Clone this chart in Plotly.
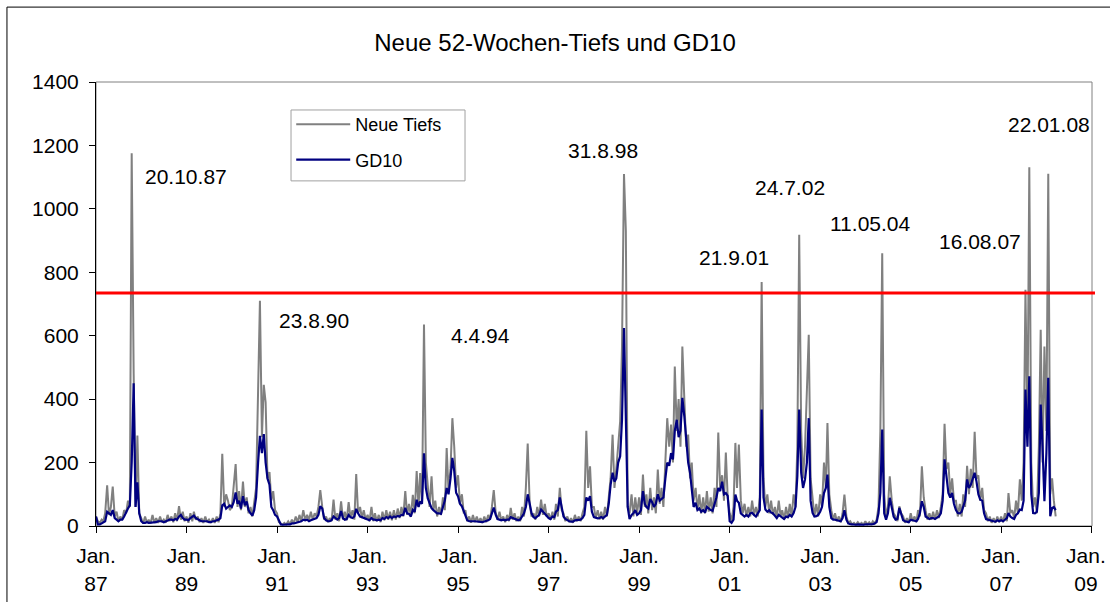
import plotly.graph_objects as go

# ---- data (semi-monthly readings: 1st and 16th of each month, Jan 1987 .. Mar 2008) ----
start_year = 1987

neue_tiefs = [
    30, 15, 10, 20, 15, 40, 128, 35, 60, 124, 30, 45, 15, 30, 20, 50, 40, 80, 60, 1175, 480, 60, 285, 40,      # 1987
    25, 8, 30, 10, 20, 8, 35, 10, 25, 10, 30, 12, 20, 10, 35, 15, 30, 12, 40, 15, 63, 20, 45, 15,              # 1988
    30, 10, 40, 15, 45, 20, 30, 12, 25, 10, 30, 12, 20, 10, 25, 10, 30, 12, 40, 228, 60, 100, 80, 50,          # 1989
    60, 130, 195, 60, 110, 50, 140, 60, 90, 40, 60, 30, 70, 120, 425, 710, 280, 445, 390, 150, 170, 80, 110, 50,  # 1990
    40, 12, 8, 4, 10, 5, 15, 6, 20, 8, 30, 12, 35, 15, 50, 20, 35, 18, 45, 20, 40, 30, 60, 113,                # 1991
    60, 20, 30, 12, 25, 15, 83, 20, 40, 15, 78, 20, 45, 18, 75, 25, 50, 20, 164, 40, 60, 25, 50, 20,           # 1992
    35, 15, 60, 15, 40, 15, 35, 12, 45, 18, 50, 20, 45, 18, 50, 20, 55, 25, 60, 30, 110, 35, 70, 30,           # 1993
    98, 40, 173, 60, 167, 70, 635, 200, 130, 60, 157, 50, 80, 30, 60, 35, 90, 50, 246, 110, 180, 340, 250, 120,  # 1994
    160, 70, 100, 40, 50, 15, 30, 10, 35, 12, 30, 12, 25, 10, 30, 12, 35, 20, 60, 113, 40, 20, 45, 18,         # 1995
    30, 12, 35, 15, 57, 20, 40, 15, 30, 15, 60, 30, 120, 260, 70, 30, 40, 20, 60, 30, 83, 35, 70, 30,          # 1996
    40, 20, 45, 20, 70, 30, 120, 50, 40, 15, 30, 12, 25, 10, 35, 15, 30, 15, 40, 60, 300, 120, 188, 60,        # 1997
    60, 25, 50, 20, 45, 20, 60, 30, 90, 150, 288, 120, 180, 250, 330, 566, 1110, 930, 60, 40, 100, 30, 90, 40,  # 1998
    90, 35, 162, 60, 100, 40, 120, 50, 90, 40, 178, 70, 120, 60, 200, 340, 250, 320, 200, 503, 300, 400, 250, 566,  # 1999
    400, 250, 288, 150, 200, 80, 120, 50, 100, 40, 90, 40, 110, 45, 90, 40, 120, 60, 295, 120, 160, 80, 232, 90,  # 2000
    40, 15, 60, 262, 120, 257, 80, 40, 70, 30, 60, 30, 80, 35, 60, 30, 90, 769, 150, 60, 100, 40, 80, 35,      # 2001
    60, 25, 80, 30, 50, 20, 60, 25, 70, 30, 100, 60, 250, 918, 300, 150, 250, 400, 603, 150, 80, 30, 70, 30,   # 2002
    100, 60, 200, 120, 325, 100, 50, 20, 40, 15, 30, 12, 40, 99, 30, 10, 15, 5, 10, 4, 12, 5, 10, 4,           # 2003
    15, 5, 12, 5, 15, 8, 20, 60, 300, 860, 100, 30, 60, 157, 80, 40, 30, 15, 62, 40, 30, 10, 25, 10,           # 2004
    40, 15, 30, 12, 50, 30, 188, 90, 50, 20, 40, 20, 45, 20, 50, 25, 60, 100, 322, 180, 200, 100, 150, 80,     # 2005
    80, 30, 70, 30, 100, 60, 190, 100, 180, 120, 297, 150, 160, 80, 120, 50, 40, 15, 30, 10, 25, 10, 30, 12,   # 2006
    30, 12, 40, 15, 104, 40, 50, 25, 80, 40, 147, 80, 200, 745, 300, 1131, 200, 60, 90, 40, 250, 619, 200, 566,  # 2007
    300, 1111, 100, 150, 80, 30,                                                                               # 2008
]

gd10 = [
    30, 5, 5, 8, 10, 15, 45, 40, 35, 50, 25, 20, 15, 20, 20, 30, 45, 55, 65, 200, 450, 60, 138, 40,            # 1987
    15, 10, 10, 12, 10, 10, 12, 12, 12, 15, 15, 15, 12, 15, 18, 20, 20, 18, 22, 20, 30, 35, 25, 20,            # 1988
    20, 18, 25, 30, 33, 25, 20, 18, 15, 15, 15, 15, 12, 12, 15, 15, 18, 20, 25, 65, 70, 55, 60, 65,            # 1989
    60, 75, 106, 70, 80, 55, 94, 65, 77, 50, 40, 33, 50, 90, 200, 284, 230, 290, 200, 150, 130, 60, 50, 35,    # 1990
    30, 15, 5, 4, 5, 4, 5, 5, 8, 8, 10, 10, 12, 15, 20, 18, 20, 15, 18, 20, 22, 25, 35, 62,                    # 1991
    55, 25, 18, 15, 15, 18, 30, 25, 20, 25, 47, 25, 20, 22, 35, 28, 25, 30, 54, 40, 30, 28, 25, 22,            # 1992
    20, 18, 25, 20, 20, 18, 20, 18, 25, 22, 28, 25, 30, 25, 30, 28, 32, 30, 35, 35, 57, 40, 38, 30,            # 1993
    51, 45, 83, 60, 77, 70, 229, 120, 88, 70, 56, 50, 45, 40, 40, 38, 60, 80, 120, 100, 150, 215, 173, 105,    # 1994
    93, 70, 62, 45, 30, 18, 15, 14, 15, 15, 14, 14, 12, 12, 14, 15, 18, 22, 40, 58, 35, 22, 20, 18,            # 1995
    20, 18, 20, 20, 28, 25, 22, 20, 18, 20, 30, 40, 60, 100, 70, 40, 28, 25, 30, 35, 52, 45, 40, 30,           # 1996
    25, 22, 30, 28, 45, 50, 90, 60, 30, 22, 18, 15, 14, 14, 18, 18, 18, 20, 25, 35, 90, 80, 94, 45,            # 1997
    28, 25, 24, 25, 28, 25, 30, 35, 70, 130, 168, 140, 150, 200, 220, 335, 624, 367, 60, 22, 35, 40, 50, 35,   # 1998
    40, 50, 110, 70, 60, 55, 85, 75, 60, 70, 100, 80, 85, 90, 150, 200, 190, 230, 210, 300, 335, 280, 300, 404,  # 1999
    346, 260, 200, 168, 110, 60, 73, 50, 55, 45, 50, 42, 60, 55, 50, 48, 70, 90, 120, 110, 140, 100, 104, 95,  # 2000
    15, 10, 20, 99, 80, 73, 40, 35, 30, 35, 30, 40, 42, 35, 30, 40, 50, 367, 90, 52, 45, 50, 42, 40,           # 2001
    30, 25, 35, 30, 25, 22, 30, 28, 35, 30, 41, 60, 157, 367, 168, 120, 147, 200, 340, 80, 41, 30, 31, 35,     # 2002
    45, 60, 104, 120, 162, 60, 25, 20, 20, 18, 15, 15, 25, 50, 20, 8, 6, 5, 5, 4, 5, 4, 5, 4,                  # 2003
    5, 5, 6, 5, 6, 8, 12, 40, 104, 304, 40, 20, 40, 89, 60, 30, 20, 22, 57, 35, 18, 15, 14, 12,               # 2004
    20, 18, 15, 15, 22, 40, 78, 60, 30, 25, 22, 25, 25, 22, 25, 30, 40, 80, 210, 150, 104, 90, 104, 70,       # 2005
    50, 41, 40, 45, 60, 80, 147, 120, 130, 150, 168, 140, 100, 83, 80, 40, 22, 20, 18, 15, 15, 14, 18, 15,    # 2006
    18, 15, 20, 25, 41, 30, 25, 22, 35, 40, 52, 50, 80, 430, 250, 472, 100, 41, 40, 45, 104, 383, 250, 78,    # 2007
    230, 467, 31, 57, 60, 50,                                                                                  # 2008
]

threshold = 735

tick_dates = ["1987-01-01", "1989-01-01", "1991-01-01", "1993-01-01", "1995-01-01", "1997-01-01",
              "1999-01-01", "2001-01-01", "2003-01-01", "2005-01-01", "2007-01-01", "2009-01-01"]
tick_labels = ["Jan.<br>87", "Jan.<br>89", "Jan.<br>91", "Jan.<br>93", "Jan.<br>95", "Jan.<br>97",
               "Jan.<br>99", "Jan.<br>01", "Jan.<br>03", "Jan.<br>05", "Jan.<br>07",
               "Jan.&nbsp;&nbsp;<br>09&nbsp;&nbsp;"]

peak_labels = ["20.10.87", "23.8.90", "4.4.94", "31.8.98", "21.9.01", "24.7.02", "11.05.04", "16.08.07", "22.01.08"]
label_x = ["1988-01-15", "1991-01-04", "1994-10-23", "1997-05-19", "2000-04-10", "2001-07-06",
           "2003-03-03", "2005-07-30", "2007-02-06"]
label_y = [1101, 649, 602, 1183, 847, 1068, 953, 896, 1265]

# semi-monthly date grid (x positions of the readings)
dates = []
for i in range(len(neue_tiefs)):
    yr = start_year + i // 24
    mo = (i % 24) // 2 + 1
    dy = 1 if i % 2 == 0 else 16
    dates.append(f"{yr}-{mo:02d}-{dy:02d}")

FONT = "Arial, Liberation Sans, sans-serif"

fig = go.Figure()
fig.add_trace(go.Scatter(x=dates, y=neue_tiefs, mode="lines", name="Neue Tiefs",
                         line=dict(color="#808080", width=2), legendgroup="a"))
fig.add_trace(go.Scatter(x=dates, y=gd10, mode="lines", name="GD10",
                         line=dict(color="#000080", width=2.2), legendgroup="b"))

for txt, lx, ly in zip(peak_labels, label_x, label_y):
    fig.add_annotation(x=lx, y=ly, xref="x", yref="y", text=txt, showarrow=False,
                       xanchor="left", yanchor="middle",
                       font=dict(family=FONT, size=21, color="black"))

# threshold line
fig.add_shape(type="line", xref="paper", yref="y", x0=0, x1=1.003, y0=threshold, y1=threshold,
              line=dict(color="#FF0000", width=3))
# plot area border (grey)
fig.add_shape(type="rect", xref="paper", yref="paper", x0=0, x1=1, y0=0, y1=1,
              line=dict(color="#808080", width=1), layer="below")
# chart area frame (black)
fig.add_shape(type="rect", xref="paper", yref="paper", x0=-0.0894, x1=1.05, y0=-0.25, y1=1.1687,
              line=dict(color="black", width=1), layer="below")
# legend box
fig.add_shape(type="rect", xref="paper", yref="paper", x0=0.1958, x1=0.3705, y0=0.7773, y1=0.937,
              line=dict(color="#A0A0A0", width=1), fillcolor="white", layer="above")

fig.update_layout(
    width=1110, height=602,
    margin=dict(l=96, r=18, t=82, b=76, autoexpand=False),
    paper_bgcolor="white", plot_bgcolor="white",
    font=dict(family=FONT, size=21, color="black"),
    title=dict(text="Neue 52-Wochen-Tiefs und GD10", x=0.5, xanchor="center",
               y=1 - 43 / 602, yanchor="middle", font=dict(family=FONT, size=24, color="black")),
    showlegend=True,
    legend=dict(x=0.196, y=0.946, xanchor="left", yanchor="top", bgcolor="rgba(0,0,0,0)",
                borderwidth=0, font=dict(family=FONT, size=18),
                tracegroupgap=9, itemwidth=54),
    xaxis=dict(type="date", range=["1987-01-01", "2009-01-03"], tickvals=tick_dates, ticktext=tick_labels,
               ticks="outside", ticklen=6, tickcolor="black", showline=True, linecolor="black",
               linewidth=1, showgrid=False, zeroline=False, tickfont=dict(family=FONT, size=21),
               ticklabelstandoff=5, automargin=False, ticklabeloverflow="allow"),
    yaxis=dict(range=[0, 1400], dtick=200, ticks="outside", ticklen=6, tickcolor="black",
               showline=True, linecolor="black", linewidth=1, showgrid=False, zeroline=False,
               tickfont=dict(family=FONT, size=21), ticklabelstandoff=6, automargin=False),
)

fig.write_html("out.html", config={"displayModeBar": False},
               post_script="document.body.style.margin='0px';")
